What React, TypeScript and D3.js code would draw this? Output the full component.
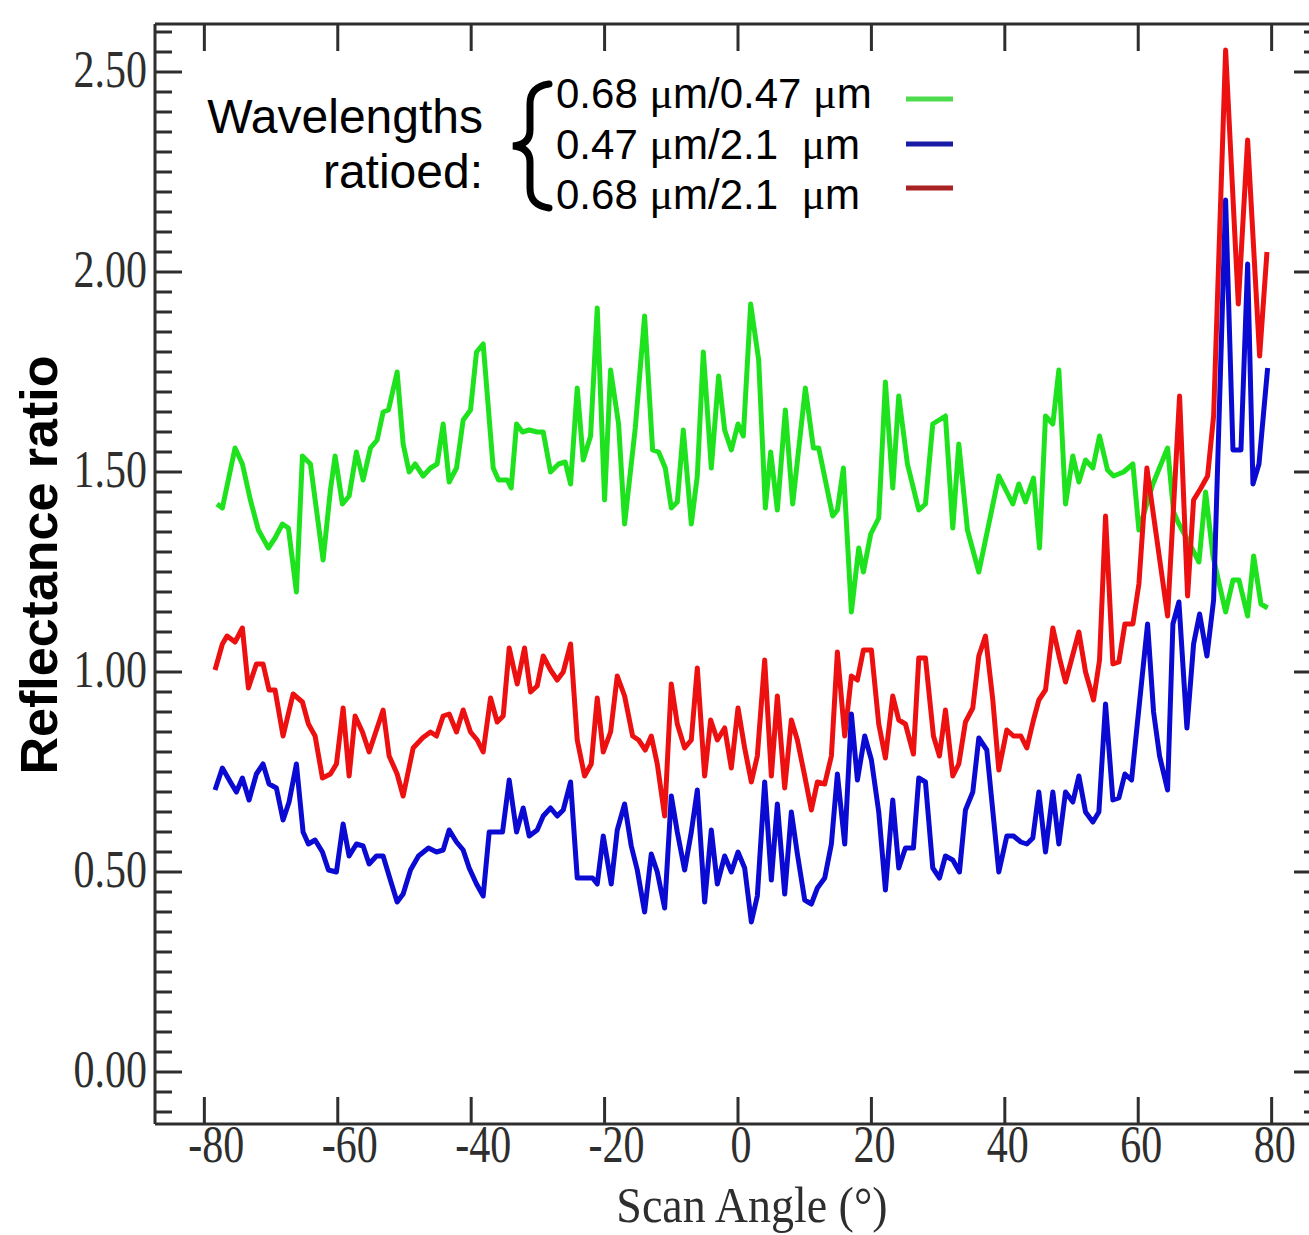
import React from 'react';
import * as d3 from 'd3';

const xTickValues = [-80, -60, -40, -20, 0, 20, 40, 60, 80];
const yTickValues = [0, 0.5, 1, 1.5, 2, 2.5];
const yTickLabels = ['0.00', '0.50', '1.00', '1.50', '2.00', '2.50'];

const legendParts = [
  ['0.68 ', '\u03bc', 'm/0.47 ', '\u03bc', 'm'],
  ['0.47 ', '\u03bc', 'm/2.1  ', '\u03bc', 'm'],
  ['0.68 ', '\u03bc', 'm/2.1  ', '\u03bc', 'm'],
];

const greenAngles = [-78.1, -77.3, -75.4, -74.3, -73.1, -71.9, -70.4, -69.4, -68.3, -67.4, -66.2, -65.3, -64.1, -62.2, -61.1, -60.4, -59.3, -58.3, -57.2, -56.2, -55.1, -54.1, -53.2, -52.4, -51.1, -50.2, -49.3, -48.4, -47.2, -46.1, -45.1, -44.2, -43.3, -42.2, -41.2, -40.1, -39.2, -38.2, -36.7, -35.9, -34.6, -34.0, -33.2, -32.3, -31.3, -30.1, -29.2, -28.1, -26.9, -25.9, -25.1, -24.1, -23.2, -22.1, -21.1, -20.0, -19.1, -17.9, -17.0, -15.4, -14.0, -12.8, -11.9, -10.9, -10.0, -9.1, -8.2, -7.0, -6.1, -5.2, -4.0, -2.9, -2.0, -1.0, 0.0, 0.8, 1.9, 3.1, 4.1, 4.9, 5.9, 7.1, 8.2, 10.1, 11.3, 12.1, 14.2, 14.9, 15.8, 17.0, 18.1, 18.8, 19.9, 21.1, 22.1, 23.2, 24.1, 25.4, 27.1, 28.1, 29.2, 31.1, 32.2, 33.1, 34.4, 36.1, 39.1, 41.2, 42.1, 43.1, 44.3, 45.2, 46.1, 47.2, 48.1, 49.1, 50.2, 51.1, 52.1, 53.2, 54.2, 55.4, 56.3, 57.8, 59.2, 60.1, 62.2, 64.4, 65.3, 66.1, 67.4, 69.1, 70.1, 71.2, 73.1, 74.2, 75.1, 76.4, 77.3, 78.4, 79.4];
const greenValues = [1.42, 1.41, 1.56, 1.52, 1.43, 1.355, 1.31, 1.335, 1.37, 1.36, 1.2, 1.54, 1.52, 1.28, 1.455, 1.54, 1.42, 1.44, 1.55, 1.48, 1.56, 1.58, 1.65, 1.655, 1.75, 1.57, 1.5, 1.52, 1.49, 1.51, 1.52, 1.62, 1.475, 1.51, 1.63, 1.655, 1.8, 1.82, 1.51, 1.48, 1.48, 1.46, 1.62, 1.6, 1.605, 1.6, 1.6, 1.5, 1.52, 1.525, 1.47, 1.71, 1.53, 1.59, 1.91, 1.43, 1.755, 1.62, 1.37, 1.61, 1.89, 1.555, 1.55, 1.51, 1.41, 1.425, 1.605, 1.37, 1.49, 1.8, 1.51, 1.74, 1.605, 1.555, 1.62, 1.59, 1.92, 1.78, 1.41, 1.55, 1.405, 1.655, 1.42, 1.71, 1.56, 1.56, 1.39, 1.405, 1.51, 1.15, 1.31, 1.25, 1.345, 1.385, 1.725, 1.46, 1.69, 1.52, 1.405, 1.42, 1.62, 1.64, 1.36, 1.57, 1.355, 1.25, 1.49, 1.42, 1.47, 1.425, 1.485, 1.31, 1.64, 1.62, 1.755, 1.42, 1.54, 1.475, 1.53, 1.51, 1.59, 1.505, 1.49, 1.5, 1.52, 1.355, 1.47, 1.56, 1.4, 1.37, 1.33, 1.275, 1.45, 1.29, 1.15, 1.23, 1.23, 1.14, 1.29, 1.17, 1.16];

const redAngles = [-78.4, -77.3, -76.6, -75.4, -74.3, -73.4, -72.2, -71.2, -70.3, -69.4, -68.2, -66.7, -65.3, -64.4, -63.4, -62.3, -61.1, -60.2, -59.2, -58.3, -57.4, -56.3, -55.3, -53.2, -52.3, -51.1, -50.2, -48.7, -47.3, -46.1, -45.2, -44.2, -43.3, -42.2, -41.2, -40.1, -39.1, -38.2, -37.1, -36.1, -35.2, -34.3, -33.1, -32.0, -31.1, -30.1, -29.2, -28.1, -27.1, -26.2, -25.1, -24.1, -23.0, -22.0, -21.1, -20.2, -19.1, -18.1, -17.0, -15.8, -14.9, -13.9, -13.0, -12.1, -11.0, -10.0, -9.1, -8.0, -7.0, -6.1, -5.0, -4.1, -3.1, -2.0, -1.0, 0.0, 1.0, 2.0, 2.9, 4.0, 5.0, 5.9, 7.0, 8.0, 8.9, 10.0, 11.0, 11.9, 13.0, 14.0, 14.9, 16.0, 17.0, 17.9, 18.8, 20.0, 21.1, 22.1, 23.2, 24.1, 25.1, 26.3, 27.1, 28.1, 29.3, 30.2, 31.1, 32.2, 33.1, 34.1, 35.2, 36.1, 37.1, 38.2, 39.1, 40.3, 41.3, 42.4, 43.3, 44.3, 45.1, 46.1, 47.2, 48.2, 49.1, 51.1, 52.1, 53.3, 54.2, 55.1, 56.2, 57.1, 58.0, 59.2, 60.1, 61.3, 64.4, 66.2, 67.4, 68.3, 69.4, 70.4, 71.3, 73.1, 75.0, 76.4, 78.2, 79.3];
const redValues = [1.005, 1.07, 1.09, 1.075, 1.11, 0.96, 1.02, 1.02, 0.955, 0.955, 0.84, 0.945, 0.925, 0.87, 0.84, 0.735, 0.745, 0.77, 0.91, 0.74, 0.89, 0.85, 0.8, 0.905, 0.79, 0.745, 0.69, 0.81, 0.835, 0.85, 0.84, 0.89, 0.895, 0.85, 0.905, 0.85, 0.83, 0.8, 0.935, 0.875, 0.89, 1.06, 0.97, 1.06, 0.95, 0.965, 1.04, 1.005, 0.98, 1.0, 1.07, 0.83, 0.74, 0.77, 0.935, 0.8, 0.85, 0.99, 0.94, 0.84, 0.83, 0.805, 0.84, 0.77, 0.64, 0.97, 0.87, 0.81, 0.83, 1.01, 0.74, 0.88, 0.83, 0.86, 0.76, 0.91, 0.81, 0.725, 0.79, 1.03, 0.74, 0.94, 0.71, 0.88, 0.83, 0.74, 0.655, 0.725, 0.72, 0.79, 1.05, 0.84, 0.99, 0.98, 1.055, 1.055, 0.87, 0.785, 0.94, 0.88, 0.87, 0.795, 1.035, 1.035, 0.84, 0.79, 0.905, 0.74, 0.77, 0.875, 0.91, 1.04, 1.09, 0.93, 0.755, 0.855, 0.84, 0.84, 0.81, 0.88, 0.93, 0.955, 1.11, 1.035, 0.975, 1.1, 1.0, 0.93, 1.03, 1.39, 1.02, 1.025, 1.12, 1.12, 1.22, 1.51, 1.14, 1.69, 1.19, 1.43, 1.46, 1.49, 1.64, 2.555, 1.92, 2.33, 1.79, 2.05];

const blueAngles = [-78.4, -77.3, -76.1, -75.2, -74.3, -73.3, -72.2, -71.2, -70.3, -69.2, -68.2, -67.3, -66.2, -65.2, -64.4, -63.4, -62.3, -61.4, -60.2, -59.2, -58.3, -57.2, -56.2, -55.3, -54.2, -53.2, -52.3, -51.1, -50.2, -49.1, -47.9, -46.4, -45.2, -44.2, -43.3, -42.2, -41.2, -40.3, -39.2, -38.2, -37.3, -35.3, -34.3, -33.2, -32.2, -31.3, -30.1, -29.2, -28.1, -27.1, -26.2, -25.1, -24.1, -23.0, -21.8, -21.1, -20.2, -19.0, -18.1, -17.0, -16.0, -15.1, -14.0, -13.0, -12.1, -11.0, -10.0, -9.1, -8.0, -7.0, -6.1, -5.0, -4.0, -3.1, -2.0, -1.0, 0.0, 1.0, 2.0, 2.9, 4.0, 5.0, 5.9, 7.0, 8.0, 8.9, 10.0, 11.0, 11.9, 13.0, 14.0, 14.9, 16.0, 17.0, 17.9, 19.0, 20.0, 21.1, 22.1, 23.2, 24.1, 25.1, 26.3, 27.1, 28.1, 29.2, 30.2, 31.1, 32.2, 33.2, 34.1, 35.2, 36.1, 37.3, 39.1, 40.3, 41.3, 42.4, 43.3, 44.2, 45.1, 46.1, 47.2, 48.1, 49.1, 50.2, 51.1, 52.1, 53.2, 54.1, 55.1, 56.2, 57.1, 58.0, 59.0, 61.4, 62.3, 63.2, 64.4, 65.2, 66.1, 67.3, 68.3, 69.2, 70.3, 71.3, 73.1, 74.2, 75.4, 76.4, 77.2, 78.1, 79.4];
const blueValues = [0.705, 0.76, 0.725, 0.7, 0.735, 0.68, 0.745, 0.77, 0.72, 0.71, 0.63, 0.675, 0.77, 0.6, 0.57, 0.58, 0.55, 0.505, 0.5, 0.62, 0.54, 0.57, 0.565, 0.52, 0.54, 0.54, 0.49, 0.425, 0.445, 0.505, 0.54, 0.56, 0.55, 0.555, 0.605, 0.575, 0.555, 0.51, 0.47, 0.44, 0.6, 0.6, 0.73, 0.6, 0.66, 0.59, 0.605, 0.64, 0.66, 0.64, 0.655, 0.725, 0.485, 0.485, 0.485, 0.47, 0.59, 0.47, 0.605, 0.67, 0.565, 0.505, 0.4, 0.545, 0.5, 0.41, 0.69, 0.6, 0.505, 0.6, 0.705, 0.425, 0.605, 0.47, 0.54, 0.5, 0.55, 0.51, 0.375, 0.44, 0.725, 0.48, 0.67, 0.445, 0.65, 0.545, 0.43, 0.42, 0.46, 0.485, 0.57, 0.745, 0.57, 0.895, 0.73, 0.84, 0.78, 0.65, 0.455, 0.68, 0.51, 0.56, 0.56, 0.735, 0.725, 0.51, 0.485, 0.54, 0.53, 0.5, 0.655, 0.7, 0.835, 0.805, 0.5, 0.59, 0.59, 0.575, 0.57, 0.585, 0.7, 0.55, 0.7, 0.57, 0.7, 0.675, 0.74, 0.65, 0.625, 0.65, 0.92, 0.68, 0.685, 0.745, 0.73, 1.12, 0.9, 0.79, 0.705, 1.12, 1.175, 0.86, 1.07, 1.145, 1.04, 1.18, 2.18, 1.555, 1.555, 2.02, 1.47, 1.52, 1.76];

const GREEN = '#1fe21f';
const BLUE = '#0a0ad2';
const RED = '#ec1010';

function zip(a: number[], b: number[]): [number, number][] {
  return a.map((v, i) => [v, b[i]] as [number, number]);
}

export default function App() {
  const x = d3.scaleLinear().domain([-87.4, 87.4]).range([155, 1321]);
  const y = d3.scaleLinear().domain([-0.13, 2.62]).range([1124, 24]);
  const line = d3.line<[number, number]>().x(d => x(d[0])).y(d => y(d[1]));
  const minorTicks = d3.range(0, 55).map(i => -0.1 + i * 0.05);
  const axisColor = '#2e2e2e';
  const serif = '"Liberation Serif", "Times New Roman", serif';
  const sans = '"Liberation Sans", Arial, sans-serif';
  const [x0, x1] = x.range();
  const [yb, yt] = y.range();

  const series = [
    { data: zip(greenAngles, greenValues), color: GREEN },
    { data: zip(redAngles, redValues), color: RED },
    { data: zip(blueAngles, blueValues), color: BLUE },
  ];

  const legendColors = ['#4ddc4d', '#1a1aa8', '#a82222'];
  const legendBase = [108, 159, 209];
  const legendSampleY = [99, 144, 188];

  return (
    <svg width={1309} height={1235} style={{ position: 'absolute', left: 0, top: 0, display: 'block', background: '#fff' }}>
      <rect x={0} y={0} width={1309} height={1235} fill="#fff" />
      {series.map((s, i) => (
        <path key={i} d={line(s.data) || ''} fill="none" stroke={s.color} strokeWidth={5} strokeLinejoin="round" />
      ))}
      {/* frame */}
      <g stroke={axisColor} strokeWidth={3} fill="none">
        <line x1={x0} x2={x0} y1={yt} y2={yb} />
        <line x1={x1} x2={x1} y1={yt} y2={yb} />
        <line x1={x0} x2={x1} y1={yt} y2={yt} />
        <line x1={x0} x2={x1} y1={yb} y2={yb} />
        {minorTicks.map((v, i) => {
          const major = Math.abs(v * 2 - Math.round(v * 2)) < 1e-6;
          const len = major ? 27 : 17;
          return (
            <g key={i}>
              <line x1={x0} x2={x0 + len} y1={y(v)} y2={y(v)} />
              <line x1={x1} x2={x1 - len} y1={y(v)} y2={y(v)} />
            </g>
          );
        })}
        {xTickValues.map((v, i) => (
          <g key={i}>
            <line x1={x(v)} x2={x(v)} y1={yb} y2={yb - 27} />
            <line x1={x(v)} x2={x(v)} y1={yt} y2={yt + 27} />
          </g>
        ))}
      </g>
      {/* y tick labels */}
      {yTickValues.map((v, i) => (
        <g key={i} transform={`translate(147,${y(v) + 15}) scale(1,1.25)`}>
          <text x={0} y={0} textAnchor="end" fontFamily={serif} fontSize={42} fill={axisColor}>{yTickLabels[i]}</text>
        </g>
      ))}
      {/* x tick labels */}
      {xTickValues.map((v, i) => (
        <g key={i} transform={`translate(${x(v) + (v < 0 ? 12 : 3)},1162) scale(1,1.25)`}>
          <text x={0} y={0} textAnchor="middle" fontFamily={serif} fontSize={42} fill={axisColor}>{String(v)}</text>
        </g>
      ))}
      {/* x title */}
      <g transform="translate(752,1222) scale(1,1.1)">
        <text x={0} y={0} textAnchor="middle" fontFamily={serif} fontSize={46} fill={axisColor}>Scan Angle (°)</text>
      </g>
      {/* y title */}
      <text transform="translate(57,565) rotate(-90)" textAnchor="middle" fontFamily={sans} fontWeight="bold" fontSize={52} fill="#000">Reflectance ratio</text>
      {/* legend */}
      <text x={483} y={133} textAnchor="end" fontFamily={sans} fontSize={48} fill="#000">Wavelengths</text>
      <text x={483} y={188} textAnchor="end" fontFamily={sans} fontSize={48} fill="#000">ratioed:</text>
      <path d="M549,84 C536,86 530,92 530,104 L530,130 C530,140 524,145 513,146 C524,147 530,152 530,162 L530,188 C530,200 536,206 549,208" fill="none" stroke="#000" strokeWidth={7} strokeLinecap="round" />
      {legendParts.map((parts, i) => (
        <g key={i}>
          <text x={556} y={legendBase[i]} fontFamily={sans} fontSize={42} fill="#000" style={{ whiteSpace: 'pre' }}>
            {parts.map((p, j) => (
              <tspan key={j} fontFamily={p === '\u03bc' ? serif : sans} fontSize={p === '\u03bc' ? 44 : 42}>{p}</tspan>
            ))}
          </text>
          <line x1={906} x2={953} y1={legendSampleY[i]} y2={legendSampleY[i]} stroke={legendColors[i]} strokeWidth={5} />
        </g>
      ))}
    </svg>
  );
}
